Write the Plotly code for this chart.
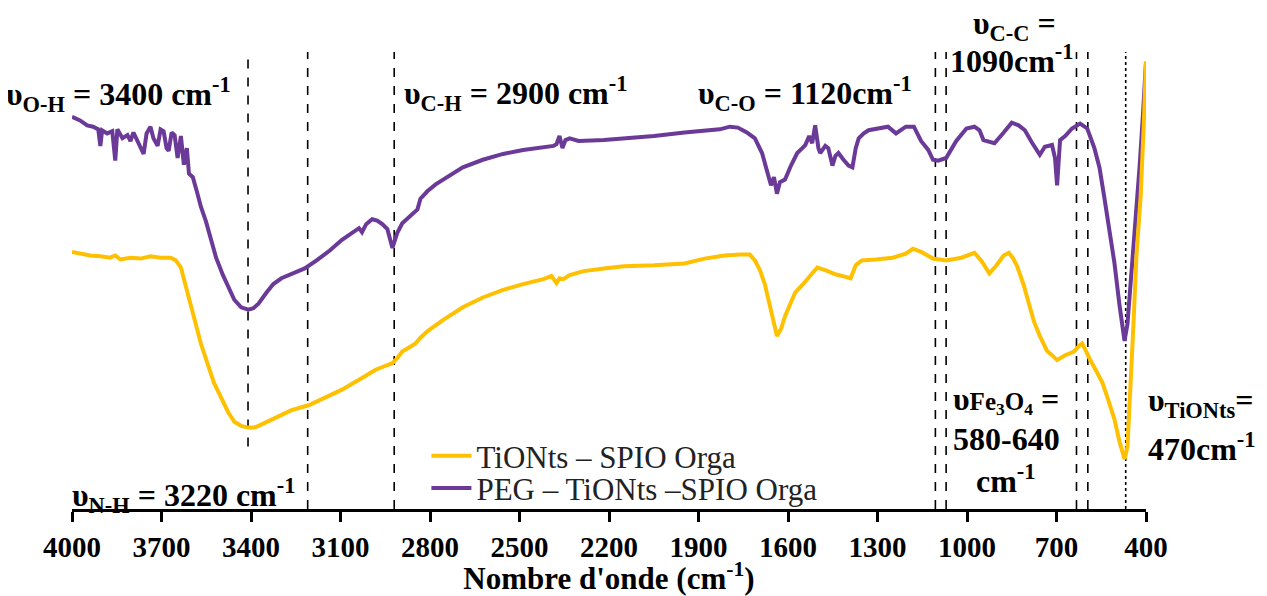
import plotly.graph_objects as go

# FTIR spectra, wavenumber (cm-1) vs transmittance (arbitrary %)
PEG_WN = [4000, 3973, 3949, 3929, 3912, 3905, 3899, 3882, 3865, 3855, 3848, 3831, 3814, 3804,
          3794, 3777, 3760, 3750, 3737, 3727, 3713, 3703, 3693, 3683, 3676, 3666, 3656, 3646,
          3635, 3625, 3615, 3608, 3595, 3581, 3568, 3551, 3534, 3517, 3494, 3473, 3456, 3433,
          3409, 3392, 3375, 3348, 3325, 3298, 3264, 3220, 3180, 3136, 3095, 3061, 3038, 3028,
          3014, 2994, 2977, 2960, 2943, 2926, 2910, 2893, 2876, 2859, 2842, 2832, 2808, 2781,
          2741, 2690, 2623, 2555, 2488, 2420, 2386, 2376, 2366, 2356, 2346, 2332, 2302, 2217,
          2049, 1947, 1880, 1829, 1795, 1768, 1738, 1711, 1687, 1667, 1657, 1647, 1637, 1627,
          1610, 1590, 1569, 1552, 1542, 1529, 1519, 1509, 1498, 1492, 1475, 1465, 1451, 1441,
          1431, 1414, 1397, 1384, 1373, 1363, 1346, 1330, 1299, 1265, 1238, 1205, 1178, 1154,
          1130, 1114, 1097, 1070, 1036, 1002, 975, 958, 945, 908, 877, 850, 827, 806, 783, 756,
          739, 715, 705, 698, 692, 688, 671, 648, 621, 597, 573, 556, 540, 523, 506, 489, 472,
          462, 445, 432, 421, 411, 400]
PEG_T = [87.7, 86.9, 85.8, 85.5, 84.9, 81.2, 84.7, 84.0, 84.5, 77.9, 84.9, 82.9, 83.6, 82.3,
         84.2, 81.8, 79.4, 84.0, 85.5, 82.9, 81.2, 84.9, 84.5, 80.7, 80.1, 84.2, 83.6, 78.5,
         83.4, 77.0, 80.7, 75.0, 74.2, 70.9, 67.6, 64.3, 60.0, 56.2, 52.3, 49.0, 46.8, 45.1,
         44.6, 44.9, 45.9, 48.4, 50.3, 51.6, 52.5, 53.8, 55.6, 57.8, 60.2, 61.7, 62.8, 61.9,
         63.7, 64.8, 64.5, 63.7, 62.6, 58.4, 61.7, 63.9, 65.0, 65.9, 67.0, 69.4, 71.1, 72.6,
         74.2, 76.4, 78.1, 79.4, 80.3, 81.0, 81.2, 81.6, 83.4, 80.7, 82.5, 82.9, 82.3, 82.5,
         83.4, 84.2, 84.5, 84.9, 85.5, 85.3, 84.2, 82.9, 79.6, 75.3, 72.4, 74.2, 70.5, 73.1,
         73.7, 76.8, 79.6, 80.7, 81.4, 83.4, 81.8, 85.8, 80.7, 79.6, 81.2, 80.7, 76.8, 79.0,
         79.6, 78.1, 76.8, 76.4, 80.7, 82.9, 84.0, 84.7, 85.1, 85.5, 84.0, 85.5, 85.5, 82.3,
         80.3, 78.1, 77.9, 78.5, 82.3, 85.1, 85.5, 84.7, 82.5, 81.8, 84.2, 86.4, 85.8, 84.7,
         82.0, 79.2, 81.0, 81.4, 78.5, 72.4, 78.5, 82.5, 83.4, 85.1, 86.2, 85.1, 80.7, 76.4,
         69.8, 62.1, 55.1, 45.7, 37.6, 41.4, 55.1, 67.6, 77.0, 87.3, 100.0]

TIO_WN = [4000, 3973, 3939, 3905, 3872, 3855, 3838, 3804, 3770, 3737, 3703, 3669, 3652, 3635,
          3619, 3602, 3585, 3568, 3544, 3524, 3500, 3477, 3456, 3433, 3409, 3389, 3375, 3348,
          3325, 3298, 3264, 3207, 3163, 3095, 3028, 2984, 2943, 2926, 2910, 2893, 2866, 2849,
          2832, 2808, 2758, 2690, 2623, 2555, 2488, 2420, 2393, 2383, 2376, 2366, 2353, 2332,
          2285, 2217, 2150, 2049, 1947, 1880, 1812, 1762, 1728, 1711, 1694, 1677, 1660, 1650,
          1637, 1623, 1610, 1593, 1576, 1552, 1525, 1502, 1475, 1441, 1407, 1390, 1373, 1353,
          1306, 1249, 1205, 1181, 1154, 1114, 1070, 1019, 975, 951, 925, 901, 877, 860, 847,
          833, 810, 793, 776, 756, 732, 715, 698, 671, 641, 624, 614, 600, 587, 563, 546, 529,
          506, 489, 472, 462, 452, 442, 432, 418, 408, 400]
TIO_T = [57.5, 57.1, 56.7, 56.5, 56.2, 56.7, 55.8, 56.2, 56.0, 56.5, 56.2, 56.2, 55.6, 54.0,
         50.1, 45.7, 41.4, 37.0, 32.2, 28.2, 24.9, 21.7, 19.5, 18.6, 18.2, 18.2, 18.6, 19.5,
         20.3, 21.2, 22.1, 23.2, 24.5, 26.7, 29.3, 31.1, 32.2, 32.6, 33.7, 35.2, 36.3, 37.0,
         38.3, 39.8, 42.2, 45.1, 47.3, 49.0, 50.3, 51.4, 52.1, 51.2, 50.5, 51.6, 51.4, 52.3,
         53.2, 53.8, 54.3, 54.5, 54.9, 56.0, 56.7, 56.9, 56.9, 55.6, 53.4, 50.1, 45.7, 42.4,
         38.7, 40.3, 43.1, 45.7, 48.4, 50.1, 52.3, 54.0, 53.4, 52.5, 51.9, 51.6, 54.5, 55.6,
         55.8, 56.2, 57.1, 58.2, 57.5, 56.0, 55.6, 56.2, 57.3, 55.4, 52.7, 54.5, 56.7, 57.3, 56.2,
         54.5, 50.1, 45.7, 42.0, 38.7, 35.4, 34.4, 33.3, 34.4, 35.2, 36.5, 37.0, 35.2, 33.3, 30.4,
         28.2, 24.9, 20.1, 15.1, 11.2, 14.0, 26.0, 41.4, 56.7, 69.8, 85.1, 100.0]

# band markers: wavenumber, top / bottom of the marker line, dash style
BAND_WN = [3410, 3210, 2920, 1106, 1070, 633, 595, 468]
BAND_TOP = [101.5, 102.2, 102.2, 102.2, 102.2, 102.2, 102.2, 102.2]
BAND_BOTTOM = [14.0, 0, 0, 0, 0, 0, 0, 0]
BAND_DASH = ["dash"] * 7 + ["dot"]

TICKS = [4000, 3700, 3400, 3100, 2800, 2500, 2200, 1900, 1600, 1300, 1000, 700, 400]

PURPLE = "#6B3A99"
GOLD = "#FFC000"
FONT = "Times New Roman, Liberation Serif, serif"

fig = go.Figure()
fig.add_trace(go.Scatter(x=PEG_WN, y=PEG_T, mode="lines", name="PEG – TiONts –SPIO Orga",
                         line=dict(color=PURPLE, width=4), legend="legend2"))
fig.add_trace(go.Scatter(x=TIO_WN, y=TIO_T, mode="lines", name="TiONts – SPIO Orga",
                         line=dict(color=GOLD, width=4), legend="legend"))

for wn, top, bot, dash in zip(BAND_WN, BAND_TOP, BAND_BOTTOM, BAND_DASH):
    fig.add_shape(type="line", xref="x", yref="y", x0=wn, x1=wn, y0=bot, y1=top,
                  line=dict(color="black", width=1.6, dash=dash), layer="below")

big = 32
labels = [
    ("υ<sub>O-H</sub> = 3400 cm<sup>-1</sup>", -0.063, 0.906, "left"),
    ("υ<sub>C-H</sub> = 2900 cm<sup>-1</sup>", 0.307, 0.91, "left"),
    ("υ<sub>C-O</sub> = 1120cm<sup>-1</sup>", 0.581, 0.91, "left"),
    ("υ<sub>C-C</sub> =", 0.878, 1.058, "center"),
    ("1090cm<sup>-1</sup>", 0.875, 0.985, "center"),
    ("υ<span style='font-size:25px'>Fe<sub>3</sub>O<sub>4</sub></span> =", 0.87, 0.238, "center"),
    ("580-640", 0.87, 0.154, "center"),
    ("cm<sup>-1</sup>", 0.87, 0.066, "center"),
    ("υ<sub>TiONts</sub>=", 1.0, 0.233, "left"),
    ("470cm<sup>-1</sup>", 1.0, 0.135, "left"),
    ("υ<sub>N-H</sub> = 3220 cm<sup>-1</sup>", -0.002, 0.03, "left"),
]
for text, x, y, anchor in labels:
    fig.add_annotation(text=f"<b>{text}</b>", xref="paper", yref="paper", x=x, y=y,
                       xanchor=anchor, yanchor="middle", showarrow=False,
                       font=dict(family=FONT, size=big, color="black"))

legend_style = dict(xanchor="left", yanchor="middle", bgcolor="rgba(0,0,0,0)",
                    font=dict(family=FONT, size=31, color="#222"), itemwidth=40)

# the page body adds an 8px offset, so the figure is 8px smaller than the window
fig.update_layout(
    width=1259, height=588,
    margin=dict(l=64, r=121, t=44, b=69),
    paper_bgcolor="white", plot_bgcolor="white",
    font=dict(family=FONT, color="black"),
    showlegend=True,
    legend=dict(x=0.33, y=0.116, **legend_style),
    legend2=dict(x=0.33, y=0.045, **legend_style),
    xaxis=dict(range=[4000, 400], tickvals=TICKS, ticktext=[f"<b>{t}</b>" for t in TICKS],
               showline=True, linecolor="black", linewidth=3, ticks="outside", ticklen=10,
               tickwidth=2.5, tickcolor="black", showgrid=False, zeroline=False,
               tickfont=dict(family=FONT, size=29, color="black"),
               title=dict(text="<b>Nombre d'onde (cm<sup>-1</sup>)</b>", standoff=0,
                          font=dict(family=FONT, size=31, color="black"))),
    yaxis=dict(range=[0, 102.2], visible=False, showgrid=False, zeroline=False),
)

fig.write_html("out.html")
